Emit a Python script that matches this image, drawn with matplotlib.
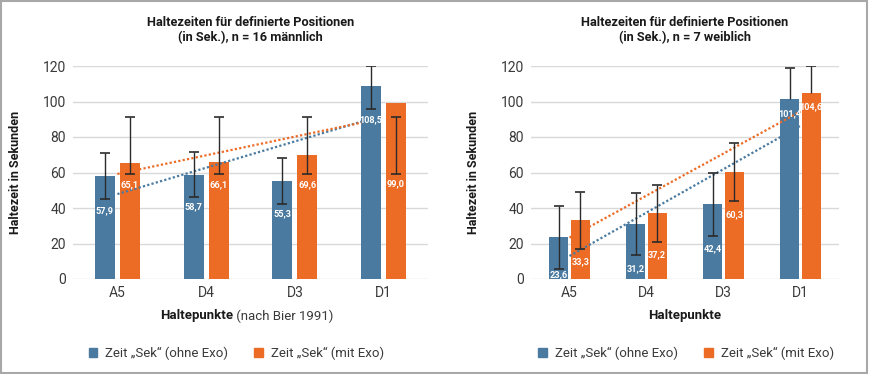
from matplotlib import pyplot as plt
from matplotlib.patches import Patch, Rectangle
import numpy as np

# categories (holding points)
categories = ["A5", "D4", "D3", "D1"]

# left chart: n = 16 male
male_no_exo = [57.9, 58.7, 55.3, 108.5]
male_no_exo_lo = [45.0, 46.0, 42.3, 95.5]
male_no_exo_hi = [70.8, 71.7, 68.0, 120.0]
male_exo = [65.1, 66.1, 69.6, 99.0]
male_exo_lo = [59.0, 59.0, 59.0, 59.0]
male_exo_hi = [91.0, 91.0, 91.0, 91.0]

# right chart: n = 7 female
female_no_exo = [23.6, 31.2, 42.4, 101.4]
female_no_exo_lo = [5.6, 13.3, 24.2, 101.4]
female_no_exo_hi = [41.3, 48.6, 59.9, 118.9]
female_exo = [33.3, 37.2, 60.3, 104.6]
female_exo_lo = [16.7, 20.8, 43.8, 104.6]
female_exo_hi = [49.2, 53.1, 76.8, 120.0]

# where the value labels sit inside the bars (y in data units)
male_label_y = ([38.5, 40.5, 37.0, 90.0], [53.0, 53.0, 53.0, 53.5])
female_label_y = ([2.6, 6.0, 17.3, 93.3], [9.8, 13.5, 36.2, 97.0])

BLUE = "#4a7a9f"
ORANGE = "#ec6b25"
TEXT = "#3a3a3a"
GRID = "#d9d9d9"
FONT = ["Roboto", "DejaVu Sans"]
NARROW = ["Liberation Sans Narrow", "Roboto", "DejaVu Sans"]

plt.rcParams["font.family"] = FONT


def fmt(v):
    return f"{v:.1f}".replace(".", ",")


def draw_chart(ax, title, s1, s1_lo, s1_hi, s2, s2_lo, s2_hi, label_y,
               width, trend_end, legend_x):
    x = np.arange(len(categories))
    off = 0.14
    ax.bar(x - off, s1, width, color=BLUE, zorder=2)
    ax.bar(x + off, s2, width, color=ORANGE, zorder=2)

    # error bars, drawn by hand so "plus only" bars get no lower cap
    for pos, vals, lo, hi in ((x - off, s1, s1_lo, s1_hi), (x + off, s2, s2_lo, s2_hi)):
        for xi, v, l, h in zip(pos, vals, lo, hi):
            ax.vlines(xi, l, h, color="#2b2b2b", lw=1.0, zorder=4)
            ax.plot([xi], [h], marker="_", ms=7, mew=1.2, color="#2b2b2b", zorder=4)
            if l < v:
                ax.plot([xi], [l], marker="_", ms=7, mew=1.2, color="#2b2b2b", zorder=4)

    # linear trend lines
    for vals, col, end in ((s1, BLUE, trend_end[0]), (s2, ORANGE, trend_end[1])):
        k, d = np.polyfit(x, vals, 1)
        xt = np.array([0, end])
        ax.plot(xt, k * xt + d, ls=(0, (1, 1)), lw=1.6, color=col, zorder=3)

    # value labels
    for pos, vals, ly in ((x - off, s1, label_y[0]), (x + off, s2, label_y[1])):
        for xi, v, yy in zip(pos, vals, ly):
            ax.text(xi, yy, fmt(v), ha="center", va="center", color="white",
                    fontsize=6.6, fontweight="bold", family=NARROW, zorder=5)

    ax.set_ylim(0, 120)
    ax.set_xlim(-0.5, len(categories) - 0.5)
    ax.set_yticks(range(0, 121, 20))
    ax.set_xticks(x)
    ax.set_xticklabels(categories)
    ax.tick_params(length=0, labelsize=10, colors=TEXT, pad=5)
    ax.grid(axis="y", color=GRID, lw=1.0, zorder=0)
    ax.set_axisbelow(True)
    for sp in ax.spines.values():
        sp.set_visible(False)

    ax.text(0.5, 1.103, title, transform=ax.transAxes, ha="center", va="bottom",
            fontsize=9.2, fontweight="bold", color="#1a1a1a", linespacing=1.2)

    handles = [Patch(color=BLUE, label="Zeit \u201eSek\u201c (ohne Exo)"),
               Patch(color=ORANGE, label="Zeit \u201eSek\u201c (mit Exo)")]
    ax.legend(handles=handles, loc="center", bbox_to_anchor=(legend_x, -0.35), ncol=2,
              frameon=False, fontsize=9.5, handlelength=0.65, handleheight=0.65,
              handletextpad=0.6, columnspacing=2.0, labelcolor=TEXT)


fig = plt.figure(figsize=(8.72, 3.74), dpi=100)
ax1 = fig.add_axes([73 / 872, 1 - 279 / 374, 355 / 872, 213 / 374])
ax2 = fig.add_axes([531 / 872, 1 - 279 / 374, 308 / 872, 213 / 374])

draw_chart(ax1, "Haltezeiten f\u00fcr definierte Positionen\n(in Sek.), n = 16 m\u00e4nnlich",
           male_no_exo, male_no_exo_lo, male_no_exo_hi,
           male_exo, male_exo_lo, male_exo_hi, male_label_y, 0.225, (2.75, 2.75), 0.46)
draw_chart(ax2, "Haltezeiten f\u00fcr definierte Positionen\n(in Sek.), n = 7 weiblich",
           female_no_exo, female_no_exo_lo, female_no_exo_hi,
           female_exo, female_exo_lo, female_exo_hi, female_label_y, 0.245, (3.0, 3.0), 0.503)

# y labels
for ax, w in ((ax1, 355), (ax2, 308)):
    ax.set_ylabel("Haltezeit in Sekunden", fontsize=9, fontweight="bold", color="#1a1a1a")
    ax.yaxis.set_label_coords(-51 / w, 0.5)

# x labels: bold part + regular part
t = ax1.text((233 - 73) / 355, -37 / 213, "Haltepunkte", transform=ax1.transAxes,
             ha="right", va="center", fontsize=9.5, fontweight="bold", color="#1a1a1a")
ax1.annotate(" (nach Bier 1991)", xy=(1, 0.5), xycoords=t, ha="left", va="center",
             fontsize=9.5, color=TEXT)
ax2.text(0.5, -37 / 213, "Haltepunkte", transform=ax2.transAxes, ha="center",
         va="center", fontsize=9.5, fontweight="bold", color="#1a1a1a")

# grey frame around the whole graphic
fig.patches.append(Rectangle((0.001, 0.003), 0.993, 0.993, transform=fig.transFigure,
                             fill=False, edgecolor="#a8a8a8", lw=1.5))

fig.savefig("out.png", dpi=100)
